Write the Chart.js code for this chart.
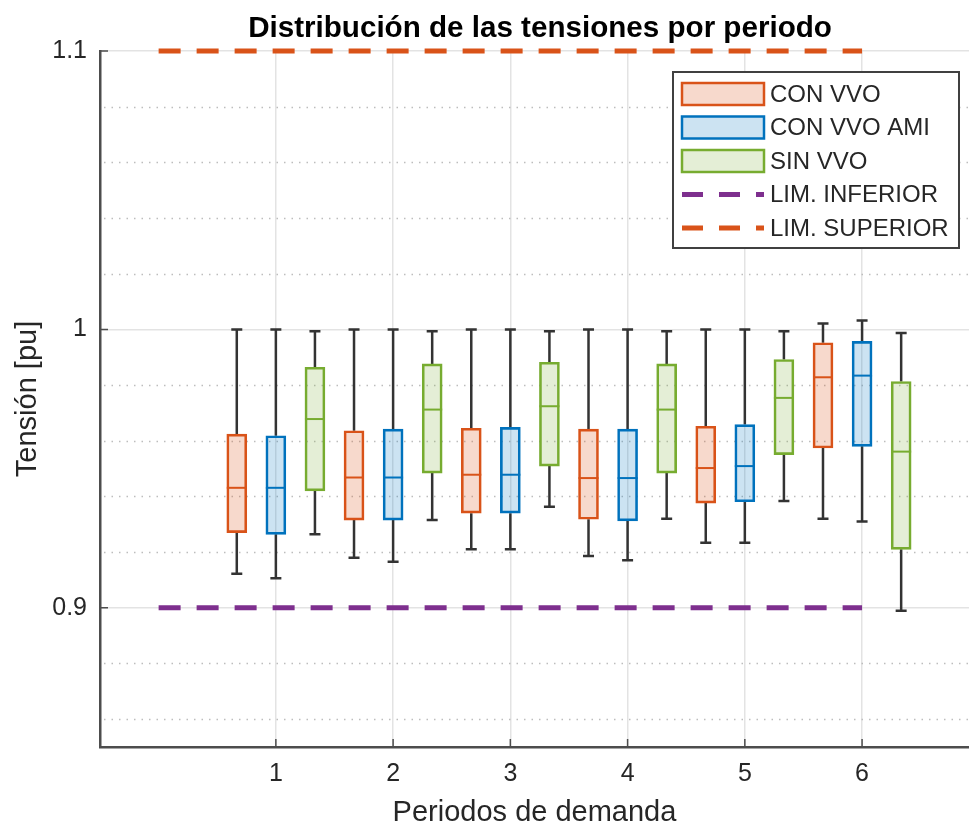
<!DOCTYPE html>
<html lang="es">
<head>
<meta charset="UTF-8">
<title>Distribución de las tensiones por periodo</title>
<script src="https://cdn.jsdelivr.net/npm/chart.js"></script>
<style>
  html, body { margin: 0; padding: 0; background: #fff; }
  #wrap { width: 969px; height: 827px; }
</style>
</head>
<body>
<div id="wrap"><canvas id="boxChart"></canvas></div>
<script>
// periods on the x axis
const periods = [1, 2, 3, 4, 5, 6];
const seriesNames = ['CON VVO', 'CON VVO AMI', 'SIN VVO'];

// CON VVO
const conVvoMin = [0.9122, 0.9180, 0.9210, 0.9186, 0.9234, 0.9320];
const conVvoQ1  = [0.9270, 0.9315, 0.9340, 0.9318, 0.9376, 0.9574];
const conVvoMed = [0.9431, 0.9468, 0.9478, 0.9466, 0.9502, 0.9828];
const conVvoQ3  = [0.9624, 0.9636, 0.9645, 0.9642, 0.9652, 0.9952];
const conVvoMax = [1.0000, 1.0000, 1.0000, 1.0000, 1.0000, 1.0021];

// CON VVO AMI
const amiMin = [0.9106, 0.9165, 0.9210, 0.9171, 0.9234, 0.9310];
const amiQ1  = [0.9264, 0.9315, 0.9340, 0.9312, 0.9381, 0.9580];
const amiMed = [0.9431, 0.9468, 0.9478, 0.9466, 0.9509, 0.9834];
const amiQ3  = [0.9618, 0.9642, 0.9648, 0.9642, 0.9658, 0.9957];
const amiMax = [1.0000, 1.0000, 1.0000, 1.0000, 1.0000, 1.0032];

// SIN VVO
const sinVvoMin = [0.9264, 0.9315, 0.9363, 0.9320, 0.9384, 0.8989];
const sinVvoQ1  = [0.9420, 0.9484, 0.9509, 0.9484, 0.9550, 0.9210];
const sinVvoMed = [0.9678, 0.9712, 0.9724, 0.9712, 0.9754, 0.9561];
const sinVvoQ3  = [0.9864, 0.9876, 0.9882, 0.9876, 0.9892, 0.9813];
const sinVvoMax = [0.9993, 0.9993, 0.9993, 0.9993, 0.9993, 0.9987];

// voltage limits, drawn from period 0 to period 6
const lowerLimit = 0.9;
const upperLimit = 1.1;
const limitFrom = 0;
const limitTo = 6;

// y grid values (minor every 0.02) and the labelled ones
const yGridValues = [0.86, 0.88, 0.90, 0.92, 0.94, 0.96, 0.98, 1.00, 1.02, 1.04, 1.06, 1.08, 1.10];
const yLabelValues = [0.9, 1.0, 1.1];
const yLabels = ['0.9', '1', '1.1'];

const FONT = "'Liberation Sans', Arial, Helvetica, sans-serif";
const TEXT = '#262626';
const colors = ['#D95319', '#0072BD', '#77AC30'];
const fills = ['rgba(217,83,25,0.22)', 'rgba(0,114,189,0.2)', 'rgba(119,172,48,0.2)'];
const offsets = [-1 / 3, 0, 1 / 3];

const stats = [
  { min: conVvoMin, q1: conVvoQ1, med: conVvoMed, q3: conVvoQ3, max: conVvoMax },
  { min: amiMin, q1: amiQ1, med: amiMed, q3: amiQ3, max: amiMax },
  { min: sinVvoMin, q1: sinVvoQ1, med: sinVvoMed, q3: sinVvoQ3, max: sinVvoMax }
];

const isLabelled = v => yLabelValues.some(m => Math.abs(m - v) < 1e-9);

const boxDatasets = stats.map((s, k) => ({
  type: 'bar',
  label: seriesNames[k],
  data: periods.map((p, i) => ({ x: p + offsets[k], y: [s.q1[i], s.q3[i]] })),
  backgroundColor: fills[k],
  borderColor: colors[k],
  borderWidth: 2,
  borderSkipped: false,
  barThickness: 20,
  grouped: false,
  order: 2
}));

const limitDatasets = [
  { label: 'LIM. INFERIOR', value: lowerLimit, color: '#7E2F8E' },
  { label: 'LIM. SUPERIOR', value: upperLimit, color: '#D95319' }
].map(l => ({
  type: 'line',
  label: l.label,
  data: [{ x: limitFrom, y: l.value }, { x: limitTo, y: l.value }],
  borderColor: l.color,
  borderWidth: 5,
  borderDash: [22, 16],
  pointRadius: 0,
  fill: false,
  clip: false,
  order: 1
}));

// dotted minor grid, whiskers behind the boxes, medians on top
const boxWhiskers = {
  id: 'boxWhiskers',
  beforeDatasetsDraw(chart) {
    const { ctx, chartArea: a, scales: { x, y } } = chart;
    ctx.save();
    ctx.strokeStyle = '#bdbdbd';
    ctx.lineWidth = 1.3;
    ctx.setLineDash([1.5, 6]);
    ctx.beginPath();
    yGridValues.filter(v => !isLabelled(v)).forEach(v => {
      const py = Math.round(y.getPixelForValue(v)) + 0.5;
      ctx.moveTo(a.left + 4, py); ctx.lineTo(a.right, py);
    });
    ctx.stroke();
    ctx.setLineDash([]);

    ctx.strokeStyle = '#333333';
    ctx.lineWidth = 2.5;
    stats.forEach((s, k) => {
      periods.forEach((p, i) => {
        const px = x.getPixelForValue(p + offsets[k]);
        const yMin = y.getPixelForValue(s.min[i]);
        const yMax = y.getPixelForValue(s.max[i]);
        ctx.beginPath();
        ctx.moveTo(px, yMax); ctx.lineTo(px, y.getPixelForValue(s.q3[i]));
        ctx.moveTo(px, y.getPixelForValue(s.q1[i])); ctx.lineTo(px, yMin);
        ctx.moveTo(px - 5.5, yMax); ctx.lineTo(px + 5.5, yMax);
        ctx.moveTo(px - 5.5, yMin); ctx.lineTo(px + 5.5, yMin);
        ctx.stroke();
      });
    });
    ctx.restore();
  },
  afterDatasetsDraw(chart) {
    const { ctx, scales: { x, y } } = chart;
    ctx.save();
    ctx.lineWidth = 2;
    stats.forEach((s, k) => {
      ctx.strokeStyle = colors[k];
      periods.forEach((p, i) => {
        const px = x.getPixelForValue(p + offsets[k]);
        const py = y.getPixelForValue(s.med[i]);
        ctx.beginPath();
        ctx.moveTo(px - 10, py); ctx.lineTo(px + 10, py);
        ctx.stroke();
      });
    });
    ctx.restore();
  }
};

// inward tick marks, title, and legend box inside the axes
const decorations = {
  id: 'decorations',
  afterDraw(chart) {
    const { ctx, chartArea: a, scales: { x, y } } = chart;
    ctx.save();
    ctx.strokeStyle = '#4d4d4d';
    ctx.lineWidth = 1.5;
    ctx.beginPath();
    yLabelValues.forEach(v => {
      const py = y.getPixelForValue(v);
      ctx.moveTo(a.left, py); ctx.lineTo(a.left + 8, py);
    });
    periods.forEach(p => {
      const px = x.getPixelForValue(p);
      ctx.moveTo(px, a.bottom); ctx.lineTo(px, a.bottom - 8);
    });
    ctx.stroke();

    // title
    ctx.fillStyle = '#000';
    ctx.font = 'bold 29.6px ' + FONT;
    ctx.textAlign = 'center';
    ctx.textBaseline = 'middle';
    ctx.fillText('Distribución de las tensiones por periodo', 540, 29);

    // legend
    const lx = a.right - 296, ly = a.top + 21, lw = 286, lh = 176;
    ctx.fillStyle = '#fff';
    ctx.fillRect(lx, ly, lw, lh);
    ctx.strokeStyle = '#404040';
    ctx.lineWidth = 2;
    ctx.strokeRect(lx, ly, lw, lh);
    const items = chart.data.datasets;
    ctx.font = '24px ' + FONT;
    ctx.textAlign = 'left';
    items.forEach((ds, i) => {
      const cy = ly + 22 + i * 33.5;
      if (ds.type === 'bar') {
        ctx.fillStyle = ds.backgroundColor;
        ctx.fillRect(lx + 9, cy - 11, 82, 22);
        ctx.strokeStyle = ds.borderColor;
        ctx.lineWidth = 2.5;
        ctx.strokeRect(lx + 9, cy - 11, 82, 22);
      } else {
        ctx.strokeStyle = ds.borderColor;
        ctx.lineWidth = 5;
        ctx.setLineDash([21, 16]);
        ctx.beginPath();
        ctx.moveTo(lx + 9, cy); ctx.lineTo(lx + 91, cy);
        ctx.stroke();
        ctx.setLineDash([]);
      }
      ctx.fillStyle = TEXT;
      ctx.fillText(ds.label, lx + 97, cy + 1);
    });
    ctx.restore();
  }
};

new Chart(document.getElementById('boxChart'), {
  data: { datasets: [...boxDatasets, ...limitDatasets] },
  options: {
    responsive: true,
    maintainAspectRatio: false,
    animation: false,
    layout: { padding: { top: 51, right: 0, bottom: 0, left: 0 } },
    plugins: {
      legend: { display: false },
      tooltip: { enabled: false },
      title: { display: false }
    },
    scales: {
      x: {
        type: 'linear',
        min: -0.5,
        max: 6.912,
        offset: false,
        afterBuildTicks: s => { s.ticks = periods.map(v => ({ value: v })); },
        afterFit: s => { s.height = 80; },
        ticks: { color: TEXT, font: { family: FONT, size: 25 }, padding: 12, autoSkip: false,
                 callback: v => String(v) },
        grid: { color: '#e3e3e3', lineWidth: 1.5, drawTicks: false, offset: false },
        border: { color: '#4d4d4d', width: 2.5 },
        title: { display: true, text: 'Periodos de demanda', color: TEXT,
                 font: { family: FONT, size: 29, lineHeight: 1 }, padding: { top: 0, bottom: 0 } }
      },
      y: {
        type: 'linear',
        min: 0.85,
        max: 1.1,
        afterBuildTicks: s => { s.ticks = yGridValues.map(v => ({ value: v })); },
        afterFit: s => { s.width = 100; },
        ticks: { color: TEXT, font: { family: FONT, size: 25 }, padding: 13, autoSkip: false,
                 callback: v => { const j = yLabelValues.findIndex(m => Math.abs(m - v) < 1e-9); return j >= 0 ? yLabels[j] : ''; } },
        grid: {
          drawTicks: false,
          color: c => (c.tick && isLabelled(c.tick.value)) ? '#e3e3e3' : 'rgba(0,0,0,0)',
          lineWidth: 1.5
        },
        border: { color: '#4d4d4d', width: 2.5 },
        title: { display: true, text: 'Tensión [pu]', color: TEXT,
                 font: { family: FONT, size: 29, lineHeight: 1 }, padding: { top: 13, bottom: 0 } }
      }
    }
  },
  plugins: [boxWhiskers, decorations]
});
</script>
</body>
</html>
